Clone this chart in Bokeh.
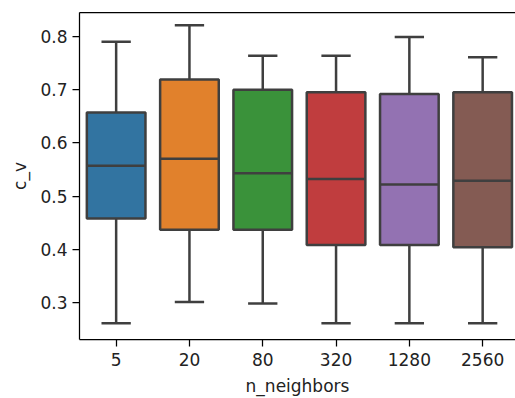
from bokeh.plotting import figure
from bokeh.models import Range1d, FixedTicker, LinearAxis
from bokeh.embed import file_html
from bokeh.resources import INLINE

categories = ["5", "20", "80", "320", "1280", "2560"]
whisker_low = [0.261, 0.301, 0.298, 0.261, 0.261, 0.261]
q1 = [0.458, 0.437, 0.437, 0.408, 0.408, 0.404]
median = [0.557, 0.570, 0.543, 0.532, 0.522, 0.529]
q3 = [0.657, 0.719, 0.700, 0.695, 0.692, 0.695]
whisker_high = [0.790, 0.821, 0.764, 0.764, 0.799, 0.761]
colors = ["#3274a1", "#e1812c", "#3a923a", "#c03d3e", "#9372b2", "#845b53"]
y_ticks = [0.3, 0.4, 0.5, 0.6, 0.7, 0.8]
x_title = "n_neighbors"
y_title = "c_v"

xs = list(range(len(categories)))
box_w = 0.8
cap_w = 0.4
line_col = "#3f3f3f"
lw = 2.5
font = "DejaVu Sans"
fs = "17px"

p = figure(width=515, height=398, output_backend="svg", toolbar_location=None,
           x_range=Range1d(-0.5, 5.448), y_range=Range1d(0.2305, 0.8451),
           min_border_left=79, min_border_top=12, min_border_right=0, min_border_bottom=59)
p.outline_line_color = None
p.xgrid.visible = False
p.ygrid.visible = False
p.background_fill_color = "white"
p.border_fill_color = "white"

# whiskers
p.segment(x0=xs, y0=whisker_low, x1=xs, y1=q1, line_color=line_col, line_width=lw)
p.segment(x0=xs, y0=q3, x1=xs, y1=whisker_high, line_color=line_col, line_width=lw)
# caps
p.segment(x0=[x - cap_w / 2 for x in xs], y0=whisker_low, x1=[x + cap_w / 2 for x in xs], y1=whisker_low,
          line_color=line_col, line_width=lw)
p.segment(x0=[x - cap_w / 2 for x in xs], y0=whisker_high, x1=[x + cap_w / 2 for x in xs], y1=whisker_high,
          line_color=line_col, line_width=lw)
# boxes
p.vbar(x=xs, bottom=q1, top=q3, width=box_w, fill_color=colors, line_color=line_col, line_width=lw)
# medians
p.segment(x0=[x - box_w / 2 for x in xs], y0=median, x1=[x + box_w / 2 for x in xs], y1=median,
          line_color=line_col, line_width=lw)

xa = p.xaxis[0]
xa.ticker = FixedTicker(ticks=xs)
xa.major_label_overrides = {i: c for i, c in zip(xs, categories)}
xa.axis_label = x_title

ya = p.yaxis[0]
ya.ticker = FixedTicker(ticks=y_ticks)
ya.axis_label = y_title

for ax in (xa, ya):
    ax.minor_tick_line_color = None
    ax.major_tick_in = 0
    ax.major_tick_out = 7
    ax.major_tick_line_width = 1.25
    ax.axis_line_width = 1.25
    ax.axis_line_color = "black"
    ax.major_tick_line_color = "black"
    ax.major_label_text_font = font
    ax.major_label_text_font_size = fs
    ax.major_label_text_color = "#222222"
    ax.axis_label_text_font = font
    ax.axis_label_text_font_size = fs
    ax.axis_label_text_font_style = "normal"
    ax.axis_label_text_color = "#222222"

xa.major_label_standoff = 6
xa.axis_label_standoff = 7
ya.major_label_standoff = 5
ya.axis_label_standoff = 7

top = LinearAxis(ticker=FixedTicker(ticks=[]), major_label_text_font_size="0px",
                 major_tick_out=0, major_tick_in=0, major_label_standoff=0,
                 axis_line_width=1.25, axis_line_color="black", minor_tick_line_color=None)
p.add_layout(top, "above")

open("out.html", "w").write(file_html(p, INLINE))
